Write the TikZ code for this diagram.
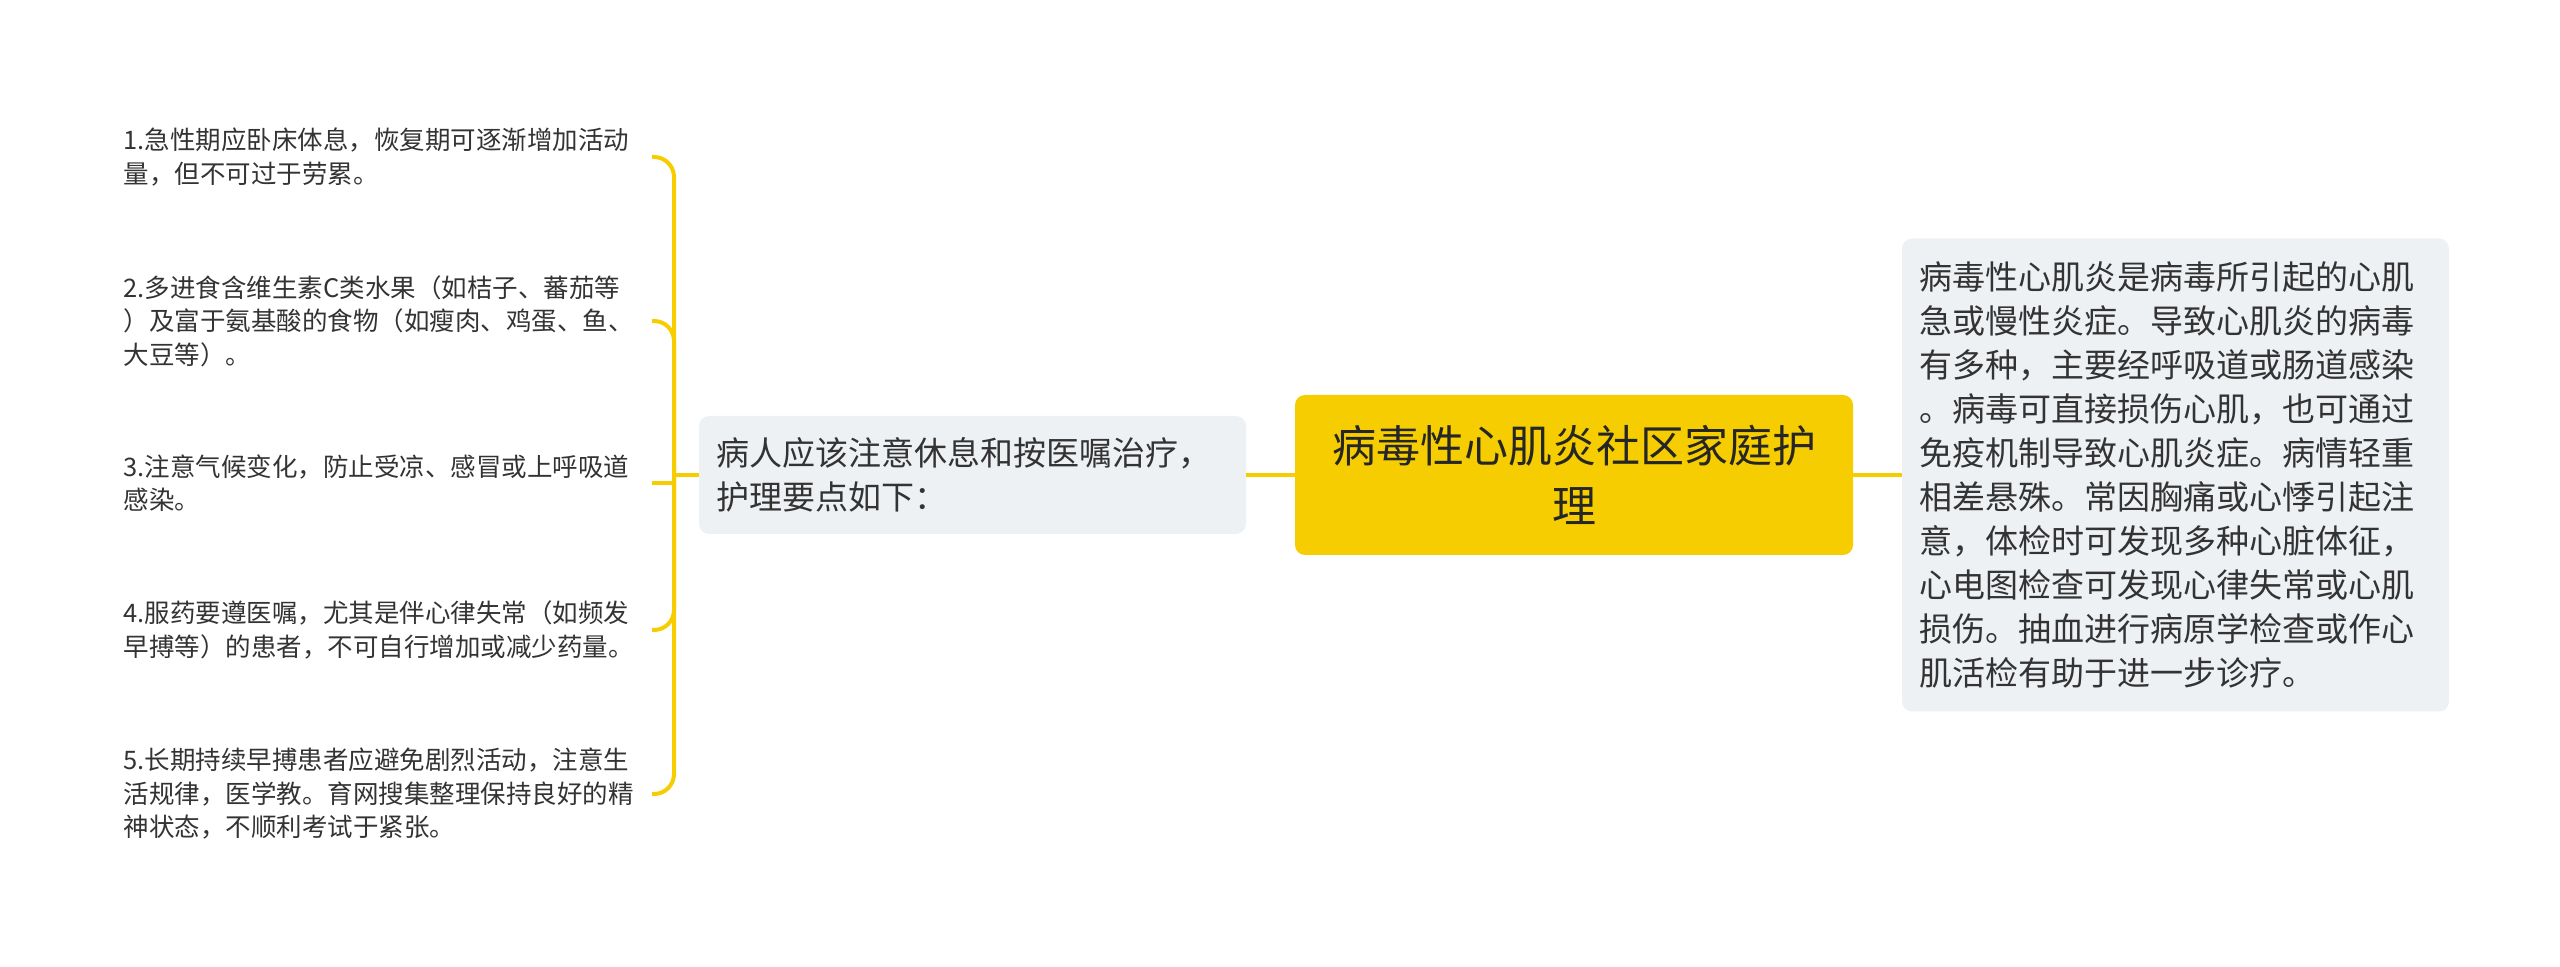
\documentclass[tikz,border=0pt]{standalone}
\usepackage{fontspec}
\setmainfont{Noto Sans CJK SC}
\definecolor{mapyellow}{HTML}{F5CD00}
\definecolor{mapgray}{HTML}{EEF1F4}
\definecolor{maptext}{HTML}{333333}

\begin{document}
\begin{tikzpicture}[x=0.5pt,y=-0.5pt,
		branch/.style={draw=mapyellow,line width=2pt,rounded corners=10pt},
		rootbox/.style={fill=mapyellow,rounded corners=5pt,minimum width=279pt,minimum height=80pt,align=center,text=black!85,font=\fontsize{22pt}{30pt}\selectfont},
		notebox/.style={fill=mapgray,rounded corners=5pt,inner xsep=8.75pt,text width=256pt,align=left,text=maptext,font=\fontsize{16.5pt}{22pt}\selectfont},
		itemtext/.style={anchor=east,inner sep=0pt,text width=264pt,align=left,text=maptext,font=\fontsize{12.75pt}{16.75pt}\selectfont}]
					\useasboundingbox (0,0) rectangle (2560,967);
					\node[rootbox] (root) at (1574,475) {病毒性心肌炎社区家庭护\\理};
					\node[notebox,minimum height=59pt] (care) at (972.5,475) {病人应该注意休息和按医嘱治疗，\\护理要点如下：};
					\node[notebox,minimum height=236.5pt] (intro) at (2175.5,475) {病毒性心肌炎是病毒所引起的心肌\\急或慢性炎症。导致心肌炎的病毒\\有多种，主要经呼吸道或肠道感染\\。病毒可直接损伤心肌，也可通过\\免疫机制导致心肌炎症。病情轻重\\相差悬殊。常因胸痛或心悸引起注\\意，体检时可发现多种心脏体征，\\心电图检查可发现心律失常或心肌\\损伤。抽血进行病原学检查或作心\\肌活检有助于进一步诊疗。};
					\coordinate (hub) at (674,475);
					\node[itemtext] (tip1) at (652,157) {1.急性期应卧床体息，恢复期可逐渐增加活动\\量，但不可过于劳累。};
					\node[itemtext] (tip2) at (652,321) {2.多进食含维生素C类水果（如桔子、蕃茄等\\）及富于氨基酸的食物（如瘦肉、鸡蛋、鱼、\\大豆等）。};
					\node[itemtext] (tip3) at (652,483) {3.注意气候变化，防止受凉、感冒或上呼吸道\\感染。};
					\node[itemtext] (tip4) at (652,630) {4.服药要遵医嘱，尤其是伴心律失常（如频发\\早搏等）的患者，不可自行增加或减少药量。};
					\node[itemtext] (tip5) at (652,794) {5.长期持续早搏患者应避免剧烈活动，注意生\\活规律，医学教。育网搜集整理保持良好的精\\神状态，不顺利考试于紧张。};
					\draw[branch] (root) -- (care);
					\draw[branch] (root) -- (intro);
					\draw[branch] (care) -- (hub);
					\foreach \i in {1,2,4,5}
						\draw[branch] (hub) |- (tip\i.east);
					\draw[branch,sharp corners] (hub) |- (tip3.east);
				\end{tikzpicture}
\end{document}
